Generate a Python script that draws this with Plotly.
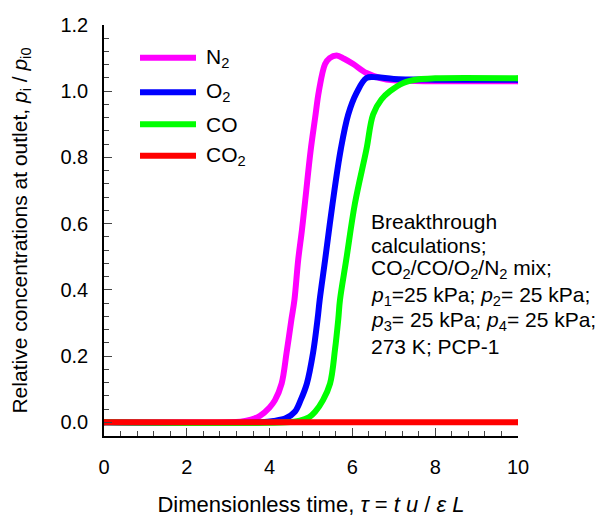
import plotly.graph_objects as go

# ---- data ----
tau_n2 = [0, 3.0, 3.3, 3.55, 3.77, 4.0, 4.13, 4.29, 4.41, 4.53, 4.60, 4.69, 4.78, 4.86, 4.99, 5.10, 5.19, 5.34, 5.45, 5.62, 5.80, 6.02, 6.34, 6.67, 7.0, 7.5, 8.5, 10]
p_n2 = [0, 0, 0.002, 0.008, 0.02, 0.045, 0.067, 0.117, 0.21, 0.313, 0.37, 0.49, 0.58, 0.67, 0.82, 0.92, 1.0, 1.082, 1.1, 1.108, 1.098, 1.082, 1.055, 1.04, 1.033, 1.031, 1.03, 1.03]

tau_o2 = [0, 3.8, 4.1, 4.4, 4.61, 4.75, 4.90, 5.05, 5.16, 5.21, 5.34, 5.52, 5.72, 5.90, 6.10, 6.34, 6.6, 7.0, 8.0, 10]
p_o2 = [0, 0, 0.004, 0.013, 0.032, 0.067, 0.117, 0.21, 0.313, 0.37, 0.49, 0.66, 0.825, 0.93, 0.995, 1.04, 1.042, 1.037, 1.035, 1.035]

tau_co = [0, 4.4, 4.73, 4.95, 5.10, 5.29, 5.46, 5.58, 5.66, 5.70, 5.85, 6.06, 6.34, 6.50, 6.70, 6.91, 7.23, 7.6, 8.0, 10]
p_co = [0, 0, 0.005, 0.015, 0.032, 0.067, 0.117, 0.22, 0.313, 0.37, 0.49, 0.66, 0.825, 0.93, 0.975, 1.0, 1.025, 1.036, 1.039, 1.039]

tau_co2 = [0, 2.5, 5, 7.5, 10]
p_co2 = [0, 0, 0, 0, 0]

series_names = ["N<sub>2</sub>", "O<sub>2</sub>", "CO", "CO<sub>2</sub>"]
series_colors = ["#ff00ff", "#0000ff", "#00ff00", "#ff0000"]
series_x = [tau_n2, tau_o2, tau_co, tau_co2]
series_y = [p_n2, p_o2, p_co, p_co2]

note_lines = [
    "Breakthrough",
    "calculations;",
    "CO<sub>2</sub>/CO/O<sub>2</sub>/N<sub>2</sub> mix;",
    "<i>p</i><sub>1</sub>=25 kPa; <i>p</i><sub>2</sub>= 25 kPa;",
    "<i>p</i><sub>3</sub>= 25 kPa; <i>p</i><sub>4</sub>= 25 kPa;",
    "273 K; PCP-1",
]

FONT = "Liberation Sans, Arial, Helvetica, sans-serif"
W, H = 606, 517
ML, MR, MT, MB = 104, 88, 25, 81
PW, PH = W - ML - MR, H - MT - MB


def px_to_paper_x(px):
    return (px - ML) / PW


def px_to_paper_y(py):
    return (H - MB - py) / PH


fig = go.Figure()
for name, xs, ys, col in zip(series_names, series_x, series_y, series_colors):
    ends = [6] + [0] * (len(xs) - 2) + [6]
    fig.add_trace(go.Scatter(
        x=xs, y=ys, name=name, mode="lines+markers",
        line=dict(color=col, width=6, shape="spline", smoothing=1.0),
        marker=dict(size=ends, color=col, line=dict(width=0)),
        showlegend=False, hoverinfo="skip",
    ))

shapes = []
annotations = []
# custom legend
leg_y_px = [57.7, 92.3, 124.3, 155.7]
for name, col, py in zip(series_names, series_colors, leg_y_px):
    yp = px_to_paper_y(py)
    shapes.append(dict(type="line", xref="paper", yref="paper",
                       x0=px_to_paper_x(140), x1=px_to_paper_x(196), y0=yp, y1=yp,
                       line=dict(color=col, width=6)))
    annotations.append(dict(xref="paper", yref="paper", x=px_to_paper_x(204), y=yp,
                            xanchor="left", yanchor="middle", showarrow=False,
                            text=name, font=dict(size=21, color="black", family=FONT)))

note_y_px = [221, 245, 269, 296, 321, 346]
for t, py in zip(note_lines, note_y_px):
    annotations.append(dict(xref="paper", yref="paper", x=px_to_paper_x(369), y=px_to_paper_y(py),
                            xanchor="left", yanchor="middle", showarrow=False,
                            text=t, font=dict(size=21, color="black", family=FONT)))

fig.update_layout(
    width=W, height=H,
    margin=dict(l=ML, r=MR, t=MT, b=MB, pad=0),
    paper_bgcolor="white", plot_bgcolor="white",
    font=dict(family=FONT, size=20, color="black"),
    shapes=shapes, annotations=annotations,
    xaxis=dict(
        range=[0, 10], tick0=0, dtick=2, ticks="inside", ticklen=8, tickwidth=1,
        tickcolor="#444", showline=True, linecolor="black", linewidth=1.5,
        showgrid=False, zeroline=False, tickfont=dict(size=20),
        ticklabelstandoff=12, automargin=False,
        minor=dict(dtick=0.4, tick0=0, ticks="inside", ticklen=5, tickwidth=1,
                   tickcolor="#444", showgrid=False),
        title=dict(text="Dimensionless time, <i>τ</i> = <i>t u</i> / <i>ε L</i>",
                   font=dict(size=22), standoff=30),
    ),
    yaxis=dict(
        range=[-0.0413, 1.2], tick0=0, dtick=0.2, tickformat=".1f",
        ticks="inside", ticklen=8, tickwidth=1, tickcolor="#444",
        showline=True, linecolor="black", linewidth=1.5,
        showgrid=False, zeroline=False, tickfont=dict(size=20),
        ticklabelstandoff=10, automargin=False,
        minor=dict(dtick=0.04, tick0=0, ticks="inside", ticklen=5, tickwidth=1,
                   tickcolor="#444", showgrid=False),
        title=dict(text="Relative concentrations at outlet, <i>p</i><sub>i</sub> / <i>p</i><sub>i0</sub>",
                   font=dict(size=21), standoff=27),
    ),
)

fig.write_html("out.html")
